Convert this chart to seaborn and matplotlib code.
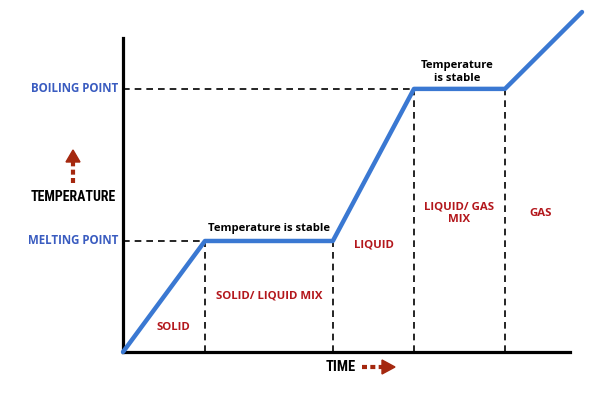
import numpy as np
import pandas as pd
import seaborn as sns
import matplotlib.pyplot as plt

# heating curve: time vs temperature (arbitrary units)
time = [0, 2.0, 5.12, 7.1, 9.32, 11.2]
temperature = [0, 40, 40, 94.8, 94.8, 122.5]
melting_point = 40
boiling_point = 94.8
phase_labels = ["SOLID", "SOLID/ LIQUID MIX", "LIQUID", "LIQUID/ GAS\nMIX", "GAS"]
phase_x = [1.22, 3.57, 6.12, 8.2, 10.2]
phase_y = [9.0, 20.0, 38.5, 50.0, 50.0]

sns.set_style("white")
plt.rcParams['font.family'] = ['Open Sans', 'DejaVu Sans']

blue = "#3a78d2"
label_blue = "#3a5cc0"
red = "#b3171c"
arrow_red = "#a5280f"

fig = plt.figure(figsize=(6.15, 3.99), dpi=100)
ax = fig.add_axes([123 / 615, 47 / 399, 459 / 615, 340 / 399])

df = pd.DataFrame({"time": time, "temperature": temperature})
sns.lineplot(data=df, x="time", y="temperature", color=blue, linewidth=3.2,
             ax=ax, clip_on=False, zorder=5)
ax.set_xlim(0, 11.2)
ax.set_ylim(0, 122.5)

# guide lines
dash = dict(color="black", linestyle=(0, (4, 3)), linewidth=1.2, zorder=3)
ax.plot([0, time[1]], [melting_point, melting_point], **dash)
ax.plot([0, time[3]], [boiling_point, boiling_point], **dash)
for t, top in zip(time[1:5], [melting_point, melting_point, boiling_point, boiling_point]):
    ax.plot([t, t], [0, top], **dash)

# axes look
for s in ["top", "right"]:
    ax.spines[s].set_visible(False)
ax.spines["left"].set_linewidth(2.3)
ax.spines["bottom"].set_linewidth(2.3)
ax.spines["left"].set_color("black")
ax.spines["bottom"].set_color("black")
ax.spines["left"].set_bounds(0, 113.2)
ax.spines["bottom"].set_bounds(0, 10.9)
ax.set_xticks([])
ax.set_yticks([])
ax.set_xlabel("")
ax.set_ylabel("")

# point labels
ax.text(-0.12, boiling_point, "BOILING POINT", ha="right", va="center",
        color=label_blue, fontsize=8.3, fontweight="bold")
ax.text(-0.12, melting_point, "MELTING POINT", ha="right", va="center",
        color=label_blue, fontsize=8.3, fontweight="bold")

# phase labels
for lab, x, y in zip(phase_labels, phase_x, phase_y):
    ax.text(x, y, lab, ha="center", va="center", color=red, fontsize=8.2,
            fontweight="bold", linespacing=1.3)

ax.text(3.57, 44.5, "Temperature is stable", ha="center", va="center",
        fontsize=8.1, fontweight="bold", color="black")
ax.text(8.15, 101.0, "Temperature\nis stable", ha="center", va="center",
        fontsize=8.1, fontweight="bold", color="black", linespacing=1.25)

# axis titles with arrows
cond = ['Roboto Condensed', 'Liberation Sans Narrow', 'DejaVu Sans']
fig.text(73 / 615, 1 - 197 / 399, "TEMPERATURE", ha="center", va="center",
         fontsize=10, fontweight="bold", family=cond, fontstretch="condensed",
         color="black")
fig.text(341 / 615, 1 - 367 / 399, "TIME", ha="center", va="center",
         fontsize=10.5, fontweight="bold", family=cond, fontstretch="condensed",
         color="black")

fig.add_artist(plt.Line2D([73 / 615, 73 / 615], [1 - 183 / 399, 1 - 162 / 399],
                          color=arrow_red, linewidth=3, linestyle=(0, (1.2, 0.8))))
fig.add_artist(plt.Polygon([[66 / 615, 1 - 162 / 399], [80 / 615, 1 - 162 / 399],
                            [73 / 615, 1 - 150 / 399]], color=arrow_red))
fig.add_artist(plt.Line2D([362 / 615, 382 / 615], [1 - 367 / 399, 1 - 367 / 399],
                          color=arrow_red, linewidth=3, linestyle=(0, (1.2, 0.8))))
fig.add_artist(plt.Polygon([[382 / 615, 1 - 360 / 399], [382 / 615, 1 - 374 / 399],
                            [395 / 615, 1 - 367 / 399]], color=arrow_red))

fig.savefig("out.png", dpi=100)
